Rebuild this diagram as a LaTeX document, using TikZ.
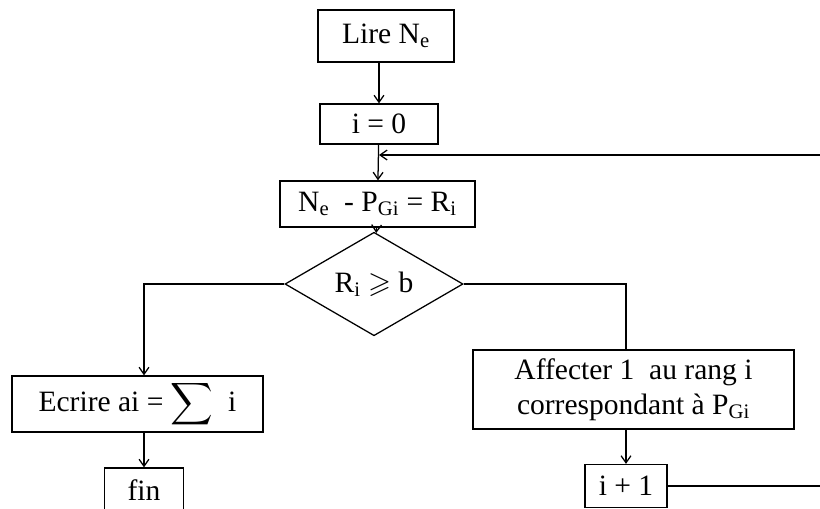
\documentclass[tikz,border=0pt]{standalone}
\usepackage{amssymb}
\usepackage{fontspec}
\setmainfont{Liberation Serif}
\usetikzlibrary{shapes.geometric, arrows.meta}

\begin{document}
\begin{tikzpicture}[x=0.025cm, y=-0.025cm, line width=0.9pt,
    >={Straight Barb[length=5pt, width=7pt]},
    every node/.style={font=\fontsize{21}{25}\selectfont},
    boite/.style={draw, rectangle, inner sep=2pt, align=center},
    losange/.style={draw, diamond, inner sep=0pt}]
    % Cadre de l'image (820 x 508 px)
    \useasboundingbox (0,0) rectangle (820,508);
    \clip (0,0) rectangle (820,508);

    % Colonne principale
    \node[boite, minimum width=3.4cm, minimum height=1.3cm] (lire) at (386,36) {Lire N\textsubscript{e}};
    \node[boite, minimum width=2.95cm, minimum height=1cm] (init) at (379,124) {i = 0};
    \node[boite, minimum width=4.875cm, minimum height=1.15cm] (calc) at (377.5,204)
        {N\textsubscript{e}\ \ - P\textsubscript{Gi} = R\textsubscript{i}};
    \node[losange, minimum width=4.45cm, minimum height=1.8cm] (test) at (374,284)
        {R\textsubscript{i} $\geqslant$ b};

    % Branche gauche
    \node[boite, minimum width=6.275cm, minimum height=1.4cm] (ecrire) at (137.5,404)
        {Ecrire ai = $\displaystyle\sum$\ \ i};
    \node[boite, minimum width=1.975cm, minimum height=1.1cm] (fin) at (144,490) {fin};

    % Branche droite
    \node[boite, minimum width=8.025cm, minimum height=1.975cm] (affect) at (633.5,389.5)
        {Affecter 1\ \ au rang i\\correspondant à P\textsubscript{Gi}};
    \node[boite, minimum width=2.05cm, minimum height=1.075cm] (incr) at (626,486) {i + 1};

    % Bords droits (boucle hors cadre)
    \coordinate (retour) at (820,155);
    \coordinate (sortie) at (820,486);

    % Liaisons
    \draw[->] (init.north |- lire.south) -- (init.north);
    \draw[->] (init) -- (calc);
    \draw[->] (retour) -- (init.south |- retour);
    \draw[->] (calc) -- (test);
    \draw[->] (test.west) -| (fin.north |- ecrire.north);
    \draw[->] (fin.north |- ecrire.south) -- (fin.north);
    \draw (test.east) -| (incr.north |- affect.north);
    \draw[->] (incr.north |- affect.south) -- (incr.north);
    \draw (incr.east) -- (sortie);

\end{tikzpicture}
\end{document}
